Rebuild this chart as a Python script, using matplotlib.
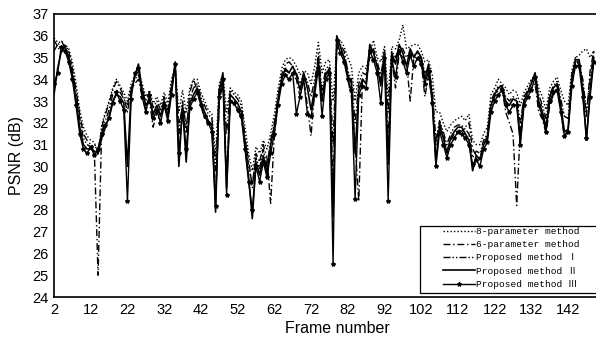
import numpy as np
import matplotlib
matplotlib.use("Agg")
import matplotlib.pyplot as plt
from matplotlib.patches import Rectangle

frames = np.arange(2, 150)

# 8-parameter method
psnr_8p = [35.9, 35.7, 35.4, 35.6, 35.4, 34.8, 33.8, 32.6, 31.8, 31.4,
           31.2, 31.1, 30.5, 31.9, 32.5, 33.0, 33.6, 34.0, 33.7, 33.4,
           33.0, 33.8, 34.2, 34.4, 33.8, 33.2, 33.5, 32.9, 33.2, 32.8,
           33.4, 32.9, 34.0, 34.5, 32.5, 33.5, 32.5, 33.6, 34.0, 34.0,
           33.4, 33.0, 32.6, 32.4, 30.5, 33.8, 34.2, 32.5, 33.6, 33.4,
           33.3, 33.0, 31.8, 30.6, 29.8, 30.9, 30.6, 31.2, 30.8, 31.5,
           32.4, 33.5, 34.5, 34.9, 35.0, 34.9, 34.6, 34.2, 34.4, 34.3,
           33.8, 34.6, 35.7, 34.3, 34.8, 34.9, 33.0, 35.5, 35.8, 35.5,
           35.0, 34.6, 33.0, 34.3, 34.6, 34.5, 35.2, 35.8, 35.0, 34.8,
           35.5, 33.2, 35.5, 35.4, 35.8, 36.5, 35.4, 35.5, 35.6, 35.6,
           35.3, 34.8, 34.9, 34.2, 32.5, 32.5, 32.0, 31.6, 31.9, 32.1,
           32.2, 32.3, 32.1, 32.4, 31.2, 31.0, 31.0, 31.5, 31.8, 33.3,
           33.6, 34.0, 33.8, 33.6, 33.3, 33.5, 33.4, 32.8, 33.4, 33.7,
           34.0, 34.2, 33.6, 33.2, 32.6, 33.6, 33.9, 34.1, 33.5, 33.0,
           32.8, 34.4, 35.0, 35.1, 35.3, 35.4, 35.0, 35.3]

# 6-parameter method
psnr_6p = [35.3, 35.6, 35.8, 35.4, 35.0, 34.4, 33.5, 32.4, 31.5, 31.2,
           31.0, 30.6, 25.0, 31.8, 32.4, 32.9, 33.5, 33.9, 33.6, 33.2,
           32.5, 33.5, 33.8, 34.0, 33.2, 32.6, 33.0, 31.8, 32.5, 32.0,
           33.0, 32.0, 33.6, 34.5, 32.0, 32.6, 31.5, 33.4, 34.0, 33.5,
           32.8, 32.2, 32.0, 31.8, 28.6, 33.0, 33.8, 29.5, 33.0, 32.9,
           32.7, 32.2, 31.2, 30.3, 29.0, 30.6, 30.2, 31.0, 30.4, 28.3,
           31.4, 33.0, 34.0, 34.4, 34.3, 34.2, 34.0, 33.2, 34.0, 32.8,
           31.4, 33.5, 35.2, 33.0, 34.3, 34.4, 29.0, 35.5, 35.3, 35.0,
           34.0, 33.2, 31.0, 28.4, 34.0, 34.0, 35.0, 35.0, 34.6, 34.0,
           34.8, 31.2, 35.0, 33.6, 35.2, 35.0, 34.8, 33.0, 35.0, 35.0,
           34.8, 33.2, 34.2, 33.0, 31.0, 32.0, 31.5, 30.7, 31.2, 31.5,
           31.7, 31.6, 31.8, 32.0, 30.8, 30.5, 30.4, 31.0, 31.4, 32.6,
           33.2, 33.5, 33.6, 32.5, 32.0, 31.5, 28.2, 31.8, 33.0, 33.3,
           33.6, 33.8, 32.5, 32.2, 31.5, 32.8, 33.3, 33.7, 32.6, 31.3,
           31.8, 33.6, 35.0, 34.6, 33.8, 32.3, 34.4, 35.3]

# Proposed method I
psnr_p1 = [35.8, 35.5, 35.2, 35.6, 35.3, 34.5, 33.4, 32.2, 31.3, 31.0,
           30.9, 31.0, 30.8, 31.6, 32.1, 32.6, 33.3, 33.5, 33.4, 33.1,
           32.8, 33.6, 34.0, 34.2, 33.6, 33.0, 33.4, 32.7, 33.0, 32.6,
           33.2, 32.6, 33.8, 34.6, 31.5, 33.0, 31.8, 33.1, 33.6, 33.8,
           33.2, 32.8, 32.4, 32.2, 29.8, 33.6, 34.1, 31.5, 33.5, 33.3,
           33.1, 32.8, 31.4, 30.0, 29.2, 30.4, 29.9, 30.8, 30.0, 31.2,
           32.0, 33.2, 34.2, 34.7, 34.8, 34.6, 34.3, 33.8, 34.2, 33.9,
           33.2, 34.0, 35.0, 33.5, 34.5, 34.6, 31.0, 35.8, 35.6, 35.3,
           34.4, 34.0, 32.0, 33.8, 34.3, 34.2, 35.3, 35.4, 34.8, 34.2,
           35.2, 32.5, 35.3, 35.0, 35.5, 35.4, 35.0, 35.3, 35.1, 35.2,
           35.0, 34.3, 34.5, 33.6, 31.2, 32.1, 31.6, 31.0, 31.5, 31.8,
           31.9, 31.9, 31.7, 31.5, 30.4, 30.7, 30.6, 31.2, 31.5, 33.0,
           33.4, 33.7, 33.7, 33.2, 33.0, 33.2, 33.1, 32.0, 33.2, 33.5,
           33.9, 34.2, 33.3, 32.8, 32.2, 33.3, 33.7, 33.9, 33.1, 32.3,
           32.2, 34.2, 34.8, 34.8, 34.0, 32.5, 34.0, 35.3]

# Proposed method II
psnr_p2 = [33.3, 34.5, 35.3, 35.5, 35.0, 34.2, 33.0, 31.8, 31.0, 30.8,
           30.8, 30.7, 30.6, 31.3, 31.8, 32.3, 33.0, 33.3, 33.2, 32.9,
           30.0, 33.4, 34.1, 34.7, 33.5, 32.8, 33.1, 32.4, 32.8, 32.3,
           33.0, 32.3, 33.5, 34.8, 30.0, 32.8, 30.2, 32.9, 33.3, 33.6,
           33.0, 32.5, 32.1, 31.9, 27.9, 33.5, 34.3, 29.0, 33.3, 33.1,
           32.9, 32.5, 31.0, 29.5, 27.6, 30.2, 29.6, 30.5, 29.7, 31.0,
           31.8, 33.0, 34.0, 34.5, 34.3, 34.6, 34.2, 33.5, 34.3, 33.6,
           32.6, 33.6, 34.8, 33.0, 34.2, 34.5, 27.7, 36.0, 35.5, 35.0,
           34.2, 33.8, 30.6, 33.5, 34.0, 33.8, 35.6, 35.2, 34.6, 33.7,
           35.3, 30.1, 35.2, 34.7, 35.6, 35.2, 34.6, 35.4, 35.0, 35.3,
           35.0, 34.0, 34.7, 33.2, 30.2, 31.9, 31.3, 30.6, 31.3, 31.6,
           31.8, 31.8, 31.5, 31.2, 29.8, 30.5, 30.3, 31.0, 31.3, 32.8,
           33.3, 33.6, 33.7, 33.0, 32.8, 33.1, 33.0, 31.2, 33.0, 33.4,
           33.8, 34.3, 33.0, 32.5, 31.8, 33.2, 33.6, 33.8, 32.8, 31.6,
           31.7, 34.0, 34.9, 34.9, 33.5, 31.2, 33.5, 35.0]

# Proposed method III
psnr_p3 = [33.8, 34.3, 35.5, 35.3, 34.8, 34.0, 32.8, 31.5, 30.8, 30.6,
           30.9, 30.5, 30.8, 31.5, 31.9, 32.2, 32.9, 33.4, 33.0, 32.6,
           28.4, 33.1, 34.3, 34.5, 33.2, 32.5, 33.3, 32.2, 32.6, 32.0,
           32.8, 32.1, 33.3, 34.7, 30.6, 32.5, 30.8, 32.7, 33.1, 33.4,
           32.8, 32.3, 32.0, 31.6, 28.2, 33.2, 34.0, 28.7, 33.0, 32.9,
           32.6, 32.3, 30.8, 29.3, 28.0, 30.0, 29.3, 30.2, 29.5, 30.6,
           31.5, 32.8, 33.8, 34.2, 34.0, 34.3, 32.4, 33.2, 34.0, 32.4,
           32.3, 33.3, 34.5, 32.3, 34.0, 34.3, 25.5, 35.8, 35.2, 34.8,
           34.0, 33.5, 28.5, 33.3, 33.7, 33.6, 35.3, 34.9, 34.3, 32.9,
           35.0, 28.4, 34.9, 34.1, 35.3, 34.8, 34.3, 35.1, 34.6, 35.0,
           34.7, 33.8, 34.4, 32.9, 30.0, 31.6, 31.0, 30.4, 31.0, 31.3,
           31.6, 31.5, 31.3, 31.0, 30.1, 30.3, 30.0, 30.8, 31.1, 32.5,
           33.0, 33.3, 33.5, 32.8, 32.5, 32.8, 32.8, 31.0, 32.8, 33.2,
           33.5, 34.1, 32.8, 32.3, 31.6, 33.0, 33.4, 33.5, 32.5, 31.4,
           31.6, 33.7, 34.6, 34.6, 33.2, 31.3, 33.2, 34.8]

labels = ["8-parameter method", "6-parameter method",
          "Proposed method \u2160", "Proposed method \u2161",
          "Proposed method \u2162"]
xticks = list(range(2, 150, 10))
yticks = list(range(24, 38))

plt.rcParams['font.family'] = ['Liberation Sans', 'DejaVu Sans']

fig = plt.figure(figsize=(5.96, 3.41), dpi=100)
ax = fig.add_axes([0.0906, 0.129, 0.9094, 0.83])

lw = 1.0
ax.plot(frames, psnr_8p, color='k', lw=lw, ls=(0, (1, 1.5)), label=labels[0])
ax.plot(frames, psnr_6p, color='k', lw=lw, ls=(0, (5, 2, 1, 2)), label=labels[1])
ax.plot(frames, psnr_p1, color='k', lw=lw, ls=(0, (5, 1.5, 1, 1.5, 1, 1.5)), label=labels[2])
ax.plot(frames, psnr_p2, color='k', lw=1.2, ls='-', label=labels[3])
ax.plot(frames, psnr_p3, color='k', lw=lw, ls='-', marker='*', ms=3, label=labels[4])

ax.set_xlim(2, 149.6)
ax.set_ylim(24, 37)
ax.set_xticks(xticks)
ax.set_yticks(yticks)
ax.tick_params(length=0, labelsize=10.5, pad=4)
for s in ['top', 'left', 'bottom']:
    ax.spines[s].set_linewidth(1.2)
ax.spines['right'].set_visible(False)

ax.set_xlabel("Frame number", fontsize=11.5)
ax.xaxis.set_label_coords(0.522, -0.085)
ax.set_ylabel("PSNR (dB)", fontsize=11.5)
ax.yaxis.set_label_coords(-0.055, 0.5)

# white box behind the legend, reaching the right edge like the scan
ax.add_patch(Rectangle((0.675, 0.014), 0.33, 0.236, transform=ax.transAxes,
                       fc='white', ec='k', lw=0.9, zorder=4, clip_on=False))
leg = ax.legend(loc='lower left', bbox_to_anchor=(0.715, 0.022),
                prop={'family': ['Liberation Mono', 'DejaVu Sans Mono', 'Noto Sans CJK SC'], 'size': 6.8},
                frameon=False, handlelength=3.3, handletextpad=0.2,
                labelspacing=0.45, borderpad=0.2, borderaxespad=0)
leg.set_zorder(5)

fig.savefig("out.png", dpi=100)
